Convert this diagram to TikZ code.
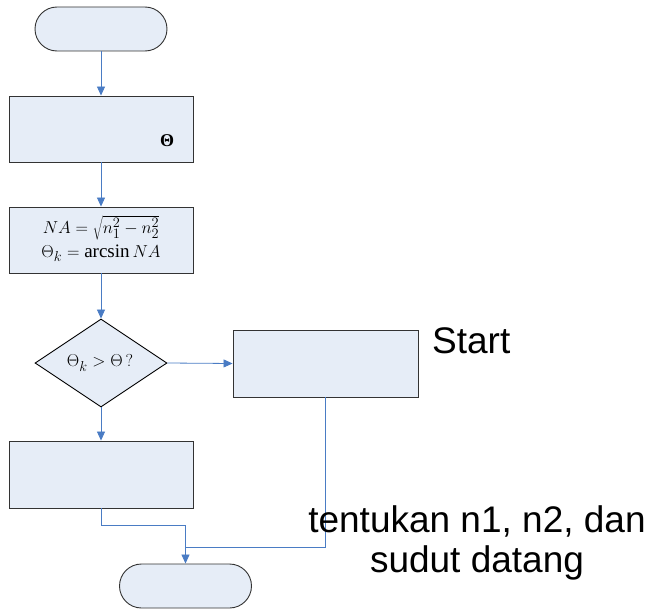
\documentclass[tikz,border=0pt]{standalone}
\usepackage{fontspec}
\setmainfont{Liberation Serif}
\newfontfamily\arialfont{Liberation Sans}
\usetikzlibrary{shapes.misc,shapes.geometric,arrows.meta}
\definecolor{boxfill}{HTML}{E6EDF7}
\definecolor{linkblue}{HTML}{4A7CC4}
\tikzset{
  procbox/.style={draw=black!80, fill=boxfill, line width=0.9pt, rectangle, minimum width=184pt, minimum height=66pt, inner sep=0pt},
  termbox/.style={draw=black!80, fill=boxfill, line width=0.9pt, rounded rectangle, minimum width=132pt, minimum height=44pt, inner sep=0pt},
  decbox/.style={draw=black, fill=boxfill, line width=0.9pt, diamond, minimum width=132pt, minimum height=88pt, inner sep=0pt, aspect=1.5},
  link/.style={draw=linkblue, line width=0.8pt},
  arrowlink/.style={link, -{Triangle[length=9pt,width=8pt]}},
  bigtext/.style={font=\arialfont\fontsize{37}{40}\selectfont, inner sep=0pt},
  mathtext/.style={font=\fontsize{19}{21}\selectfont, inner sep=0pt}
}
\begin{document}
\begin{tikzpicture}[x=1pt,y=-1pt]
\useasboundingbox (0,0) rectangle (646,610);
\node[termbox] (nstart) at (101,29) {};
\node[procbox] (nbox1) at (101,129) {};
\node[mathtext, font=\fontsize{18}{20}\selectfont\bfseries] (ntheta) at (167,141) {Θ};
\node[procbox] (nbox2) at (101,240) {};
\node[mathtext] (nbox2a) at (101,228) {$NA=\sqrt{n_1^2-n_2^2}$};
\node[mathtext] (nbox2b) at (101,253) {$\Theta_k=\arcsin NA$};
\node[decbox] (ndec) at (101,363) {};
\node[mathtext] (ndectext) at (100,363) {$\Theta_k>\Theta\,?$};
\node[procbox, minimum width=185pt, minimum height=67pt] (nright) at (325.5,363.5) {};
\node[procbox, minimum height=67pt] (nbox3) at (101,474.5) {};
\node[termbox] (nend) at (185.5,586) {};
\coordinate (nbend) at (101,525);
\coordinate (njoin) at (185.5,547);
\coordinate (nrdown) at (325.5,547);
\draw[arrowlink] (nstart.south) -- (nbox1.north);
\draw[arrowlink] (nbox1.south) -- (nbox2.north);
\draw[arrowlink] (nbox2.south) -- (ndec.north);
\draw[arrowlink] (ndec.south) -- (nbox3.north);
\draw[arrowlink] (ndec.east) -- (nright.west);
\draw[arrowlink] (nbox3.south) -- (nbend) -| (nend.north);
\draw[link] (nright.south) -- (nrdown) -- (njoin);
\node[bigtext, anchor=west] (nstartlbl) at (432,341) {Start};
\node[bigtext, align=center] (ntentukan) at (477,543) {tentukan n1, n2, dan\\sudut datang};
\end{tikzpicture}
\end{document}
